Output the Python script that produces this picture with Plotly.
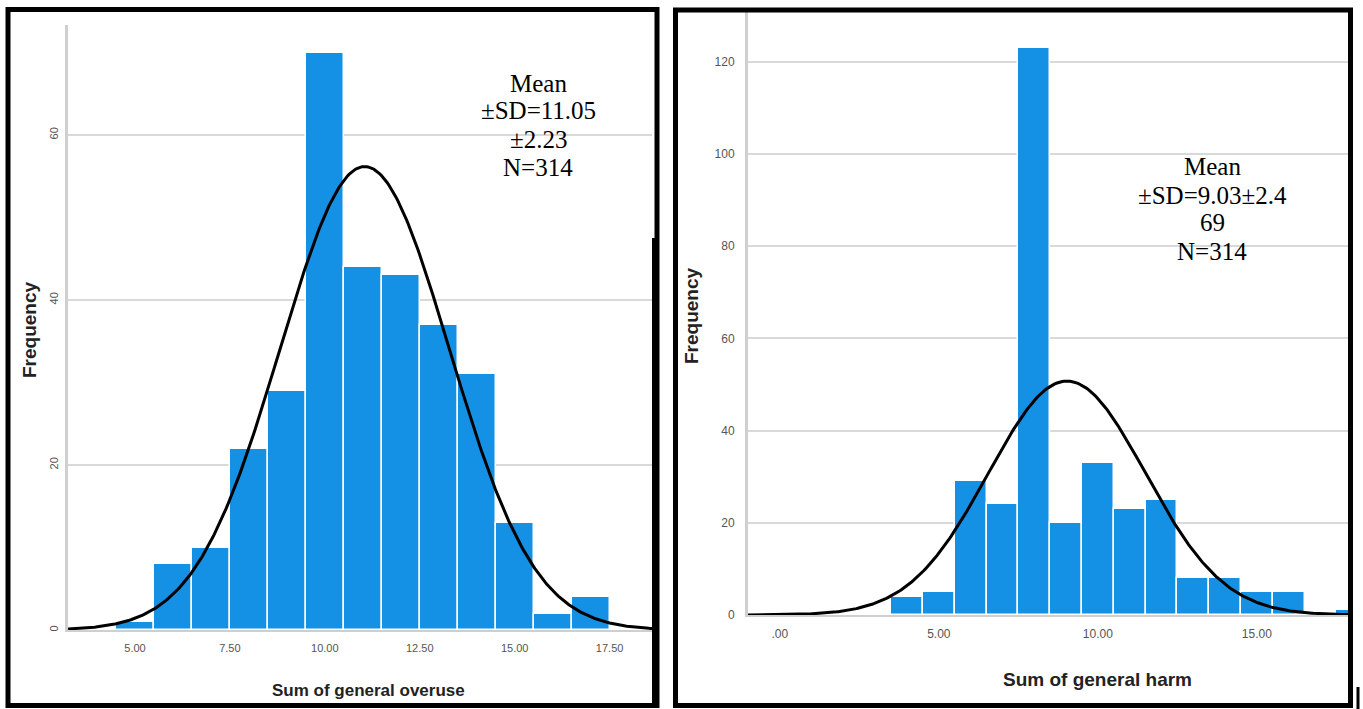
import numpy as np
import plotly.graph_objects as go

W, H = 1363, 709      # reference picture size (coordinates below are read in it)
H_FIG = 716           # figure height; the photographed viewport is a little taller than 709

# ---------------- data ----------------
overuse_bins = [5, 6, 7, 8, 9, 10, 11, 12, 13, 14, 15, 16, 17]
overuse_freq = [1, 8, 10, 22, 29, 70, 44, 43, 37, 31, 13, 2, 4]
overuse_mean, overuse_sd, overuse_n = 11.05, 2.23, 314

harm_bins = [4, 5, 6, 7, 8, 9, 10, 11, 12, 13, 14, 15, 16, 17, 18]
harm_freq = [4, 5, 29, 24, 123, 20, 33, 23, 25, 8, 8, 5, 5, 0, 1]
harm_mean, harm_sd, harm_n = 9.03, 2.469, 314

left_xticks = [5, 7.5, 10, 12.5, 15, 17.5]
left_xticklabels = ["5.00", "7.50", "10.00", "12.50", "15.00", "17.50"]
left_yticks = [0, 20, 40, 60]
right_xticks = [0, 5, 10, 15]
right_xticklabels = [".00", "5.00", "10.00", "15.00"]
right_yticks = [0, 20, 40, 60, 80, 100, 120]

left_text = ["Mean", "±SD=11.05", "±2.23", "N=314"]
right_text = ["Mean", "±SD=9.03±2.4", "69", "N=314"]

# ---------------- helpers ----------------
def px(x):
    return x / W

def py(y):
    return 1 - y / H

BAR = "#1490e4"
GRID = "#d9d9d9"
AXL = "#cfcfcf"
TICKFONT = dict(family="Liberation Sans Narrow, Arial Narrow, Liberation Sans, Arial", size=11, color="#555555")
TICKFONT_R = dict(TICKFONT, size=12)

def normal_curve(mean, sd, n, lo, hi):
    xs = np.linspace(lo, hi, 400)
    ys = n * 1.0 / (sd * np.sqrt(2 * np.pi)) * np.exp(-0.5 * ((xs - mean) / sd) ** 2)
    return xs, ys

L_XR = [3.236, 3.236 + (652 - 68) / 37.97]
L_YR = [0, (630 - 25) / 8.25]
R_XR = [-1.0, -1.0 + (1348 - 748) / 31.8]
R_YR = [0, (615 - 12) / 4.61]

fig = go.Figure()

fig.add_trace(go.Bar(x=overuse_bins, y=overuse_freq, width=1,
                     marker=dict(color=BAR, line=dict(color="white", width=1.5)),
                     xaxis="x", yaxis="y", showlegend=False))
cx, cy = normal_curve(overuse_mean, overuse_sd, overuse_n, L_XR[0], L_XR[1])
fig.add_trace(go.Scatter(x=cx, y=cy, mode="lines", line=dict(color="black", width=3),
                         xaxis="x", yaxis="y", showlegend=False, cliponaxis=True))

fig.add_trace(go.Bar(x=harm_bins, y=harm_freq, width=1,
                     marker=dict(color=BAR, line=dict(color="white", width=1.5)),
                     xaxis="x2", yaxis="y2", showlegend=False))
hx, hy = normal_curve(harm_mean, harm_sd, harm_n, R_XR[0], R_XR[1])
fig.add_trace(go.Scatter(x=hx, y=hy, mode="lines", line=dict(color="black", width=3),
                         xaxis="x2", yaxis="y2", showlegend=False, cliponaxis=True))

axis_common = dict(showgrid=False, zeroline=False, showline=True, linecolor=AXL, linewidth=2,
                   ticks="outside", tickcolor="rgba(0,0,0,0)")

fig.update_layout(
    width=W, height=H_FIG,
    margin=dict(l=0, r=0, t=0, b=0),
    paper_bgcolor="white", plot_bgcolor="white",
    bargap=0,
    xaxis=dict(domain=[px(68), px(652)], range=L_XR, tickvals=left_xticks,
               ticktext=left_xticklabels, ticklen=7, anchor="y", tickfont=TICKFONT, **axis_common),
    yaxis=dict(domain=[py(630), py(25)], range=L_YR, tickvals=left_yticks, anchor="x",
               showgrid=True, gridcolor=GRID, gridwidth=2, zeroline=False, showline=True,
               linecolor=AXL, linewidth=3, ticks="outside", tickcolor="rgba(0,0,0,0)",
               ticklen=3, tickangle=-90, tickfont=TICKFONT),
    xaxis2=dict(domain=[px(748), px(1348)], range=R_XR, tickvals=right_xticks,
                ticktext=right_xticklabels, ticklen=7, anchor="y2", tickfont=TICKFONT_R, **axis_common),
    yaxis2=dict(domain=[py(615), py(12)], range=R_YR, tickvals=right_yticks, anchor="x2",
                showgrid=True, gridcolor=GRID, gridwidth=2, zeroline=False, showline=True,
                linecolor=AXL, linewidth=3, ticks="outside", tickcolor="rgba(0,0,0,0)",
                ticklen=8, tickfont=TICKFONT_R),
)

shapes = []
# white boxes behind the statistics text (hide gridlines)
shapes.append(dict(type="rect", xref="paper", yref="paper", x0=px(425), x1=px(652),
                   y0=py(200), y1=py(55), fillcolor="white", line=dict(width=0), layer="between"))
shapes.append(dict(type="rect", xref="paper", yref="paper", x0=px(1098), x1=px(1328),
                   y0=py(330), y1=py(140), fillcolor="white", line=dict(width=0), layer="between"))
# panel borders
shapes.append(dict(type="rect", xref="paper", yref="paper", x0=px(8), x1=px(657),
                   y0=py(705.5), y1=py(9.5), line=dict(color="black", width=5), fillcolor="rgba(0,0,0,0)", layer="above"))
shapes.append(dict(type="line", xref="paper", yref="paper", x0=px(653.5), x1=px(653.5),
                   y0=py(707), y1=py(238), line=dict(color="black", width=3), layer="above"))
shapes.append(dict(type="rect", xref="paper", yref="paper", x0=px(675.5), x1=px(1350.5),
                   y0=py(705.5), y1=py(10), line=dict(color="black", width=5), fillcolor="rgba(0,0,0,0)", layer="above"))
shapes.append(dict(type="line", xref="paper", yref="paper", x0=px(1358), x1=px(1358),
                   y0=py(709), y1=py(687), line=dict(color="black", width=3), layer="above"))
fig.update_layout(shapes=shapes)

ann = []
SERIF = dict(family="Liberation Serif, Times New Roman, serif", size=25, color="black")
for t, yy in zip(left_text, [83, 111, 139, 168]):
    ann.append(dict(text=t, x=px(538), y=py(yy), xref="paper", yref="paper",
                    showarrow=False, xanchor="center", yanchor="middle", font=SERIF))
for t, yy in zip(right_text, [167, 195, 223, 251]):
    ann.append(dict(text=t, x=px(1212), y=py(yy), xref="paper", yref="paper",
                    showarrow=False, xanchor="center", yanchor="middle", font=SERIF))

TITLE = dict(family="Liberation Sans, Arial, sans-serif", size=17, color="#222222")
ann.append(dict(text="<b>Frequency</b>", x=px(30), y=py(330), xref="paper", yref="paper",
                showarrow=False, textangle=-90, xanchor="center", yanchor="middle", font=dict(TITLE, size=19)))
ann.append(dict(text="<b>Frequency</b>", x=px(691), y=py(316), xref="paper", yref="paper",
                showarrow=False, textangle=-90, xanchor="center", yanchor="middle", font=dict(TITLE, size=19)))
ann.append(dict(text="<b>Sum of general overuse</b>", x=px(368), y=py(690), xref="paper", yref="paper",
                showarrow=False, xanchor="center", yanchor="middle", font=TITLE))
ann.append(dict(text="<b>Sum of general harm</b>", x=px(1097), y=py(679), xref="paper", yref="paper",
                showarrow=False, xanchor="center", yanchor="middle", font=dict(TITLE, size=19)))
fig.update_layout(annotations=ann)

post = (
    "document.documentElement.style.margin='0';"
    "document.body.style.margin='0';"
    "document.body.style.overflow='hidden';"
)
fig.write_html("out.html", config={"displayModeBar": False}, post_script=post)
